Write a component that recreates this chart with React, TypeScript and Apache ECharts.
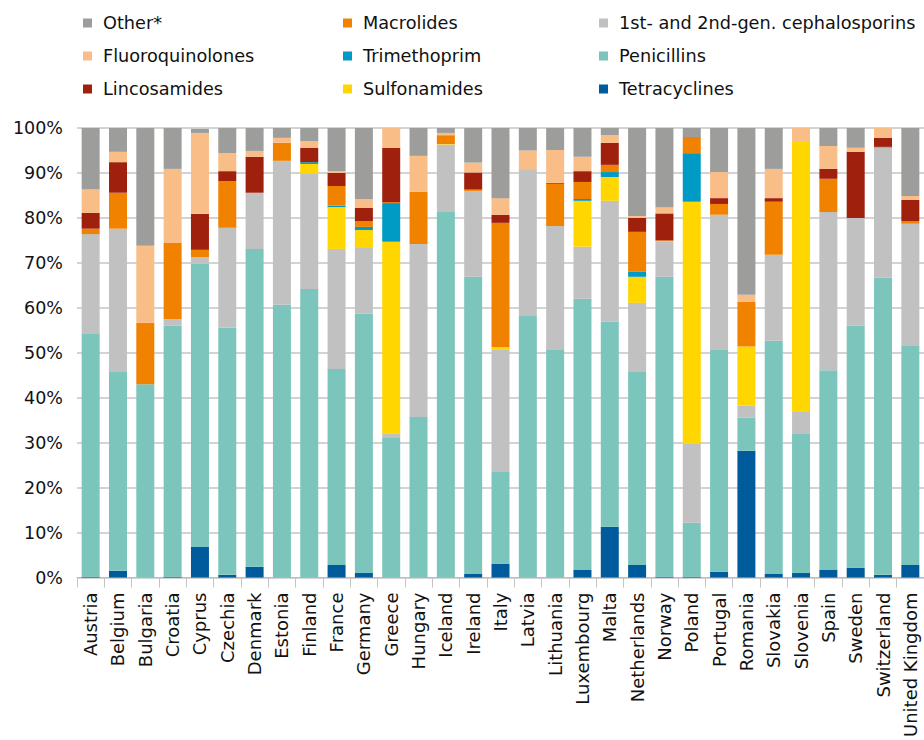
import React, { useEffect, useRef } from "react";
import * as echarts from "echarts";

const countries = [
  "Austria", "Belgium", "Bulgaria", "Croatia", "Cyprus", "Czechia", "Denmark", "Estonia",
  "Finland", "France", "Germany", "Greece", "Hungary", "Iceland", "Ireland", "Italy",
  "Latvia", "Lithuania", "Luxembourg", "Malta", "Netherlands", "Norway", "Poland", "Portugal",
  "Romania", "Slovakia", "Slovenia", "Spain", "Sweden", "Switzerland", "United Kingdom",
];

const tetracyclines = [0.2, 1.5, 0, 0.2, 6.8, 0.6, 2.4, 0, 0, 2.8, 1.0, 0, 0, 0, 0.8, 3.1, 0, 0, 1.7, 11.3, 2.8, 0.2, 0.2, 1.3, 28.2, 0.8, 1.0, 1.7, 2.2, 0.6, 2.8];
const penicillins = [54.0, 44.2, 43.0, 55.8, 63.0, 55.0, 70.7, 60.7, 64.2, 43.6, 57.7, 31.2, 35.7, 81.3, 66.1, 20.4, 58.2, 50.8, 60.3, 45.6, 43.1, 66.7, 12.0, 49.5, 7.4, 51.9, 31.1, 44.4, 53.8, 66.1, 48.7];
const cephalosporins = [22.2, 31.9, 0, 1.5, 1.5, 22.2, 12.5, 32.0, 25.6, 26.7, 14.6, 0.9, 38.5, 15.0, 19.1, 27.3, 32.5, 27.4, 11.6, 26.9, 15.2, 7.8, 17.5, 29.9, 2.6, 19.1, 4.9, 35.2, 24.0, 28.9, 27.2];
const sulfonamides = [0, 0, 0, 0, 0, 0, 0, 0, 2.2, 9.3, 4.0, 42.6, 0, 0.1, 0, 0.5, 0, 0, 10.2, 5.3, 5.8, 0.1, 53.9, 0, 13.2, 0, 59.9, 0, 0, 0, 0];
const trimethoprim = [0, 0, 0, 0, 0, 0, 0, 0, 0.4, 0.3, 0.7, 8.6, 0, 0, 0, 0, 0, 0, 0.4, 1.1, 1.1, 0, 10.8, 0, 0, 0, 0, 0, 0, 0, 0];
const macrolides = [1.2, 8.0, 13.7, 16.9, 1.6, 10.4, 0, 4.0, 0, 4.4, 1.3, 0.2, 11.6, 2.0, 0.3, 27.6, 0.1, 9.4, 3.8, 1.6, 8.9, 0.2, 3.6, 2.4, 9.9, 11.8, 0, 7.4, 0, 0.2, 0.6];
const lincosamides = [3.5, 6.8, 0, 0, 8.0, 2.2, 8.0, 0, 3.2, 2.9, 2.9, 12.1, 0, 0, 3.8, 1.8, 0, 0.2, 2.4, 4.9, 3.1, 6.0, 0, 1.3, 0, 0.8, 0, 2.2, 14.7, 2.0, 4.7];
const fluoroquinolones = [5.3, 2.3, 17.1, 16.5, 18.0, 4.0, 1.3, 1.1, 1.5, 0.4, 2.0, 4.4, 8.0, 0.5, 2.2, 3.7, 4.2, 7.3, 3.2, 1.7, 0.4, 1.3, 0, 5.8, 1.6, 6.5, 3.1, 5.1, 0.9, 2.2, 0.9];
const other = [13.6, 5.3, 26.2, 9.1, 0.9, 5.6, 5.1, 2.2, 2.9, 9.6, 15.8, 0, 6.2, 1.1, 8.0, 15.6, 5.1, 4.9, 6.4, 1.6, 19.6, 18.0, 2.0, 9.8, 37.1, 9.1, 0, 4.0, 4.4, 0.2, 15.1];

const yTicks = [0, 10, 20, 30, 40, 50, 60, 70, 80, 90, 100];

const seriesDefs = [
  { name: "Tetracyclines", data: tetracyclines, color: "#005b9c" },
  { name: "Penicillins", data: penicillins, color: "#7bc5bd" },
  { name: "1st- and 2nd-gen. cephalosporins", data: cephalosporins, color: "#c1c1c1" },
  { name: "Sulfonamides", data: sulfonamides, color: "#ffd600" },
  { name: "Trimethoprim", data: trimethoprim, color: "#009bc4" },
  { name: "Macrolides", data: macrolides, color: "#f08200" },
  { name: "Lincosamides", data: lincosamides, color: "#a0200e" },
  { name: "Fluoroquinolones", data: fluoroquinolones, color: "#f9bd88" },
  { name: "Other*", data: other, color: "#9d9d9c" },
];

const legendCols = [
  { left: 78, names: ["Other*", "Fluoroquinolones", "Lincosamides"] },
  { left: 338, names: ["Macrolides", "Trimethoprim", "Sulfonamides"] },
  { left: 594, names: ["1st- and 2nd-gen. cephalosporins", "Penicillins", "Tetracyclines"] },
];

const FONT = "DejaVu Sans";

export default function App() {
  const ref = useRef<HTMLDivElement>(null);
  useEffect(() => {
    document.body.style.margin = "0";
    const chart = echarts.init(ref.current!, null, { renderer: "svg" });
    chart.setOption({
      animation: false,
      backgroundColor: "#ffffff",
      textStyle: { fontFamily: FONT },
      legend: legendCols.map((c) => ({
        orient: "vertical",
        left: c.left,
        top: 9,
        itemWidth: 9,
        itemHeight: 9,
        itemGap: 15,
        icon: "rect",
        selectedMode: false,
        data: c.names,
        textStyle: { fontFamily: FONT, fontSize: 17.7, color: "#111111", padding: [0, 0, 0, 6] },
      })),
      grid: { left: 77, right: 0, top: 128, bottom: 162, containLabel: false },
      xAxis: {
        type: "category",
        data: countries,
        axisLine: { lineStyle: { color: "#bdbdbd", width: 1 } },
        axisTick: { show: true, length: 10, lineStyle: { color: "#c4c4c4" } },
        axisLabel: {
          rotate: 90,
          interval: 0,
          fontSize: 18,
          fontFamily: FONT,
          color: "#111111",
          margin: 15,
        },
      },
      yAxis: {
        type: "value",
        min: yTicks[0],
        max: yTicks[yTicks.length - 1],
        interval: 10,
        axisLine: { show: false },
        axisTick: { show: false },
        splitLine: { lineStyle: { color: "#c4c4c4", width: 1.5 } },
        axisLabel: {
          formatter: "{value}%",
          fontSize: 17.5,
          fontFamily: FONT,
          color: "#111111",
          margin: 14,
        },
      },
      series: seriesDefs.map((s) => ({
        name: s.name,
        type: "bar",
        stack: "total",
        data: s.data,
        barWidth: 18,
        itemStyle: { color: s.color },
        emphasis: { disabled: true },
      })),
    });
    return () => chart.dispose();
  }, []);
  return <div ref={ref} style={{ width: 924, height: 740, position: "absolute", left: 0, top: 0 }} />;
}
